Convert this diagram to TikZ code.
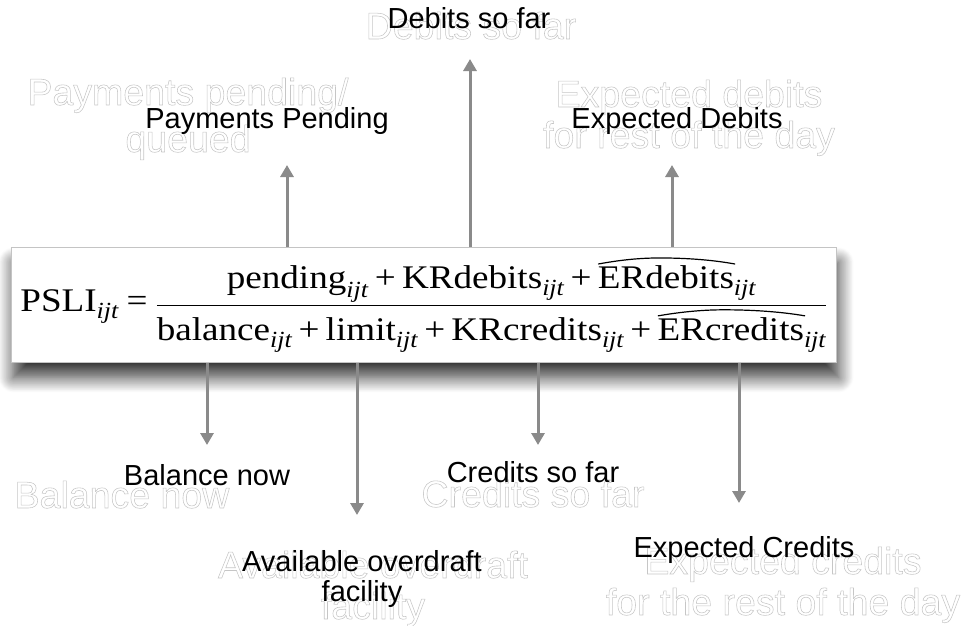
\documentclass[tikz,border=0pt]{standalone}
\usepackage{amsmath}
\usepackage{graphicx}
\usepackage{fontspec}
\setmainfont{Liberation Serif}
\newfontfamily\labelfont{Liberation Sans}
\usetikzlibrary{arrows.meta,shadows.blur}

\definecolor{arrowgray}{HTML}{8A8A8A}
\definecolor{ghostgray}{HTML}{C6C6C6}
\definecolor{framegray}{HTML}{C4C4C4}

% outline-only glyphs (PDF text render mode 1)
\newcommand{\outl}{\special{pdf:literal direct 1 Tr 0.55 w}}
% subscript used throughout the formula
\newcommand{\ijt}{\text{\itshape ijt}}
% operators taken from the text font so they scale freely
\newcommand{\pl}{\mathbin{\text{+}}}
\newcommand{\eq}{\mathrel{\text{=}}}
% wide arc accent drawn over a word
\newsavebox{\arcbox}
\newdimen\arcwd
\newcommand{\arcover}[1]{%
  \sbox{\arcbox}{#1}\arcwd=\wd\arcbox
  \vbox{\offinterlineskip
    \hbox to \arcwd{\tikz[x=1pt,y=1pt]\draw[line width=1.2pt,line cap=round]
      (0,0) .. controls (0.18\arcwd,4.5) and (0.32\arcwd,6) .. (0.45\arcwd,6)
      .. controls (0.62\arcwd,6) and (0.82\arcwd,4.5) .. (\arcwd,0);\hss}%
    \kern1.5pt
    \box\arcbox}}

\begin{document}
\begin{tikzpicture}[x=1pt,y=-1pt,
  ghost/.style={font=\labelfont\fontsize{37.5}{41}\selectfont, text=ghostgray,
    align=center, anchor=base, inner sep=0pt},
  lbl/.style={font=\labelfont\fontsize{29}{30}\selectfont, text=black,
    align=center, anchor=base, inner sep=0pt},
  link/.style={draw=arrowgray, line width=3pt, -{Triangle[width=13pt,length=12pt]}},
  eqbox/.style={draw=framegray, fill=white, line width=0.8pt, anchor=north west,
    minimum height=115pt, inner xsep=9pt, inner ysep=0pt,
    font=\fontsize{33}{40}\selectfont,
    blur shadow={shadow xshift=2pt, shadow yshift=-15pt, shadow blur radius=15pt,
      shadow blur steps=18, shadow opacity=80}}]

\useasboundingbox (0,0) rectangle (965,625);

% faint outlined captions (anchored on their last line)
\node[ghost] (gDebits) at (471,39) {\outl Debits so far};
\node[ghost] (gPay) at (188,152) {\outl Payments pending/\\[6pt]\outl queued};
\node[ghost] (gExpD) at (689,148) {\outl Expected debits\\\outl for rest of the day};
\node[ghost] (gBal) at (122,508) {\outl Balance now};
\node[ghost] (gOver) at (373,619) {\outl Available overdraft\\\outl facility};
\node[ghost] (gCred) at (533,507) {\outl Credits so far};
\node[ghost] (gExpC) at (783,615) {\outl Expected credits\\\outl for the rest of the day};

% the formula
\node[eqbox] (eq) at (11,247) {\scalebox{1.125}[1]{$\displaystyle
  \text{PSLI}_{\ijt} \eq
  \frac{\text{pending}_{\ijt} \pl \text{KRdebits}_{\ijt} \pl \arcover{ERdebits}_{\ijt}}
       {\text{balance}_{\ijt} \pl \text{limit}_{\ijt} \pl \text{KRcredits}_{\ijt} \pl \arcover{ERcredits}_{\ijt}}$}};

% arrow ends
\coordinate (tPay) at (287,165);
\coordinate (tDeb) at (470,59);
\coordinate (tExpD) at (672,165);
\coordinate (tBal) at (207,445);
\coordinate (tOver) at (357,515);
\coordinate (tCred) at (538,445);
\coordinate (tExpC) at (739,503);

\draw[link] (eq.north -| tPay) -- (tPay);
\draw[link] (eq.north -| tDeb) -- (tDeb);
\draw[link] (eq.north -| tExpD) -- (tExpD);
\draw[link] (eq.south -| tBal) -- (tBal);
\draw[link] (eq.south -| tOver) -- (tOver);
\draw[link] (eq.south -| tCred) -- (tCred);
\draw[link] (eq.south -| tExpC) -- (tExpC);

% captions (anchored on their last line)
\node[lbl] (lDebits) at (469,28) {Debits so far};
\node[lbl] (lPay) at (267,128) {Payments Pending};
\node[lbl] (lExpD) at (677,128) {Expected Debits};
\node[lbl] (lBal) at (207,485) {Balance now};
\node[lbl] (lOver) at (362,601) {Available overdraft\\facility};
\node[lbl] (lCred) at (533,482) {Credits so far};
\node[lbl] (lExpC) at (744,557) {Expected Credits};
\end{tikzpicture}
\end{document}
